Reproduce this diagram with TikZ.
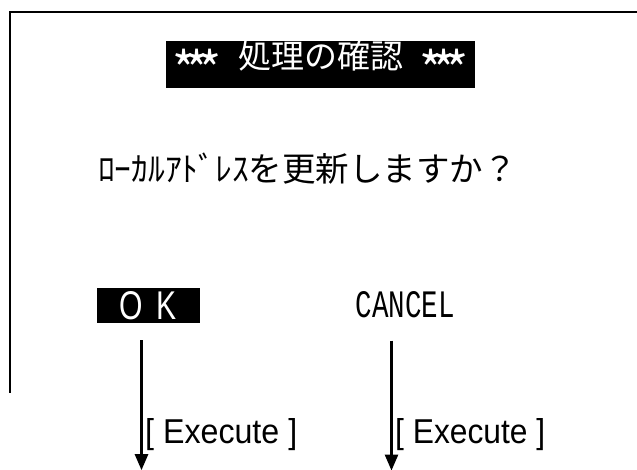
\documentclass[tikz,border=0pt]{standalone}
\usepackage{fontspec}
\usepackage{graphicx}
\usetikzlibrary{arrows.meta}
\usetikzlibrary{positioning}
\newfontfamily\jpfont{Noto Sans CJK JP}
\newfontfamily\lblfont{Liberation Sans}
\newfontfamily\btnfont{Liberation Mono}
\newcommand\stars{\raisebox{-0.6em}{\scalebox{1.5}{*\kern-0.2em*\kern-0.2em*}}}

\begin{document}
\begin{tikzpicture}[x=1pt,y=-1pt,
	inv/.style={fill=black,text=white,inner sep=0pt},
	flow/.style={line width=2.6pt,-{Triangle[width=13pt,length=16pt]}},
	lbl/.style={inner sep=0pt,anchor=base west}]
	\useasboundingbox (0,0) rectangle (637,470);

	% screen frame
	\draw[line width=2pt] (637,12) -- (10,12) -- (10,393);

	\node[inv,minimum width=309pt,minimum height=35pt] (title) at (320.5,64.5){\jpfont\fontsize{33pt}{33pt}\selectfont\stars\hspace{16pt}処理の確認\hspace{16pt}\stars};
	\node[inner sep=0pt] (msg) at (307.5,169){\resizebox{419pt}{!}{\jpfont ﾛｰｶﾙｱﾄﾞﾚｽを更新しますか？}};

	\node[inv,minimum width=103pt,minimum height=35pt] (ok) at (148.5,305.5){\resizebox{57pt}{28pt}{\lblfont O\hspace{0.45em}K}};
	\node[inner sep=0pt,anchor=base] (cancel) at (405.5,318){\resizebox{99pt}{26pt}{\btnfont CANCEL}};

	\coordinate (okS) at ([xshift=-7pt,yshift=-17pt]ok.south);
	\coordinate (okE) at ([yshift=-130pt]okS);
	\coordinate (cancelS) at ([xshift=-14pt,yshift=-22pt]cancel.south);
	\coordinate (cancelE) at ([yshift=-130pt]cancelS);

	\draw[flow] (okS) -- (okE);
	\draw[flow] (cancelS) -- (cancelE);

	\node[lbl] (okl) at (145,443){\resizebox{152pt}{25pt}{\lblfont [ Execute ]}};
	\node[lbl] (cancell) at (395,443){\resizebox{150pt}{25pt}{\lblfont [ Execute ]}};
\end{tikzpicture}
\end{document}
